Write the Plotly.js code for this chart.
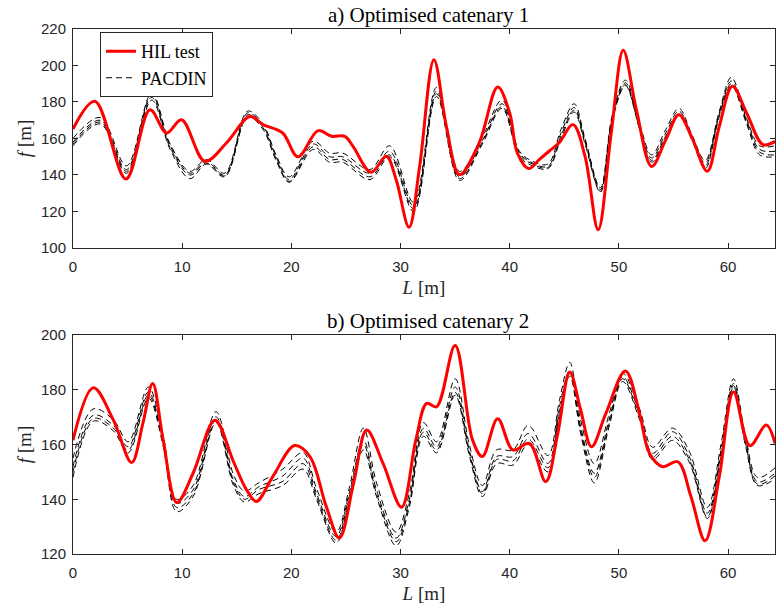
<!DOCTYPE html>
<html>
<head>
<meta charset="utf-8">
<script src="https://cdn.plot.ly/plotly-3.0.1.min.js"></script>
<style>html,body{margin:0;padding:0;background:#fff;}#chart{width:776px;height:611px;}</style>
</head>
<body>
<div id="chart"></div>
<script>
// ---------- Data: a) Optimised catenary 1 ----------
const hil1X = [0, 2.0, 4.85, 7.05, 8.57, 9.94, 12.07, 14.05, 16.2, 17.4, 19.2, 20.6, 22.45, 23.7, 24.9, 25.65, 27.3, 28.7, 29.6, 30.78, 31.75, 33.06, 34.2, 35.4, 37.2, 38.9, 40.0, 40.7, 41.75, 42.7, 43.6, 44.5, 45.8, 46.9, 48.1, 49.3, 50.4, 51.6, 53.0, 54.3, 55.5, 56.7, 58.1, 59.2, 60.4, 61.7, 63.2, 64.3];
const hil1Y = [165.2, 180.4, 137.8, 175.8, 163, 170.3, 147.5, 157.5, 172, 167.6, 163, 150, 164.3, 161.2, 161.2, 155.7, 141.5, 150.2, 137.4, 111.3, 144.7, 203.2, 166.7, 140.2, 157.5, 188.2, 174, 152, 143.5, 148.4, 153, 157.5, 167.6, 150.2, 110, 163, 208.3, 175.8, 144.7, 159.4, 173, 160.3, 142, 166.7, 188.6, 174, 156.6, 158.4];

const pac1X = [0, 2.5, 4.9, 7.2, 8.9, 10.7, 12.2, 13.9, 16.0, 17.4, 18.6, 19.8, 22.0, 23.5, 24.7, 27.2, 29.0, 31.2, 33.3, 35.4, 37.5, 39.3, 40.9, 42.1, 43.5, 44.7, 45.9, 46.9, 48.3, 49.4, 50.6, 51.9, 53.0, 54.3, 55.5, 56.7, 57.9, 59.2, 60.3, 61.7, 62.9, 64.3];
const pac1A = [160, 171.5, 145, 185, 157, 142, 148.5, 141, 175, 168, 151, 139, 158.5, 152, 152, 143, 156, 125, 188, 142, 161, 181, 153, 147.5, 146, 165, 179, 160, 133, 173, 192, 168, 151, 165, 176.5, 162, 148, 175, 193.5, 171, 156, 156];
const pac1B = [158, 170, 143, 184, 156, 141, 147.5, 140, 174, 167, 150, 137.5, 157, 150, 150, 141, 153, 123, 186, 139, 159, 179, 152, 146.6, 144.7, 163, 177, 159, 132, 172, 190.5, 166.7, 149.3, 163, 175, 161, 146.6, 174, 191.5, 170, 154, 153];
const pac1C = [157, 169, 142, 182.5, 155, 140, 146.5, 139.5, 173, 166, 149, 136.5, 155.5, 148.5, 148.5, 139, 151, 121.5, 184.5, 138, 158, 177.5, 151, 146, 144, 161.5, 175.5, 158, 131, 171, 189.5, 165.5, 148, 161.5, 173.5, 160, 145, 173, 190, 169, 152.5, 151];
const pac1D = [156, 168, 141, 181, 154, 138, 146, 139, 172, 165, 148, 136, 154, 147, 147, 137.5, 150, 120, 183, 137, 157, 176.5, 150, 145, 143.5, 160, 174.5, 157, 130.5, 170, 189, 165, 147, 160.5, 173, 159, 143.5, 172, 189, 168, 151, 150];

// ---------- Data: b) Optimised catenary 2 ----------
const hil2X = [0, 1.86, 3.7, 5.37, 6.4, 7.3, 8.26, 9.5, 11.0, 13.0, 14.7, 15.9, 16.8, 18.3, 20.3, 21.7, 23.2, 24.4, 25.7, 26.9, 28.4, 30.1, 31.4, 32.4, 33.3, 35.0, 36.6, 37.5, 38.9, 40.3, 41.8, 43.3, 44.4, 45.5, 46.5, 47.5, 48.8, 50.6, 51.9, 52.8, 54.0, 55.4, 56.6, 57.9, 59.2, 60.5, 62.0, 63.5, 64.3];
const hil2Y = [161.6, 180.7, 168.9, 153.4, 167.7, 182.3, 161.6, 138.8, 149.5, 168.9, 153.7, 143.4, 139.2, 148.3, 159.6, 155.6, 137.3, 125.8, 145.8, 165.3, 153.1, 137.1, 161.6, 175, 173.8, 196.2, 161.6, 155.6, 169.4, 158, 160.4, 146.4, 164, 186.5, 172.6, 159.2, 171.3, 186.9, 171.3, 156.8, 151.9, 153.7, 141, 124.8, 148.3, 179.2, 159.6, 167.1, 160.4];

const pac2X = [0, 1.86, 3.7, 5.06, 6.9, 8.26, 9.5, 11.0, 13.1, 14.7, 15.7, 17.0, 19.2, 21.07, 22.3, 24.1, 25.3, 26.6, 27.8, 29.6, 30.8, 32.1, 33.3, 35.0, 36.3, 37.5, 38.8, 40.3, 41.7, 43.5, 44.55, 45.5, 46.5, 47.75, 49.1, 50.35, 51.9, 53.1, 54.9, 56.45, 58.1, 59.35, 60.5, 61.6, 62.7, 64.3];
const pac2A = [155, 173, 169, 161, 181, 163, 140, 145, 172, 149, 143, 146, 151, 157, 144, 128, 144, 166, 146, 128, 142, 168, 161, 184, 160, 145, 158, 158, 167, 156, 176, 190, 169, 153, 171, 186, 173, 159, 166, 157.5, 137, 160, 184, 163, 148, 151.5];
const pac2B = [152, 170.7, 167, 159.2, 179.2, 161.6, 138.6, 143.4, 170.1, 147, 141, 144.5, 148.5, 155, 142.2, 126.4, 142.2, 161.6, 143.4, 125.8, 139.8, 165.9, 159.2, 181, 158, 142.8, 155.6, 155.6, 164, 153.1, 173.8, 187.1, 166.5, 149.5, 168.9, 184.7, 171.3, 156.8, 164.7, 155.6, 134.9, 158, 182.3, 161.6, 146.4, 149.5];
const pac2C = [150, 169.5, 166, 158, 178, 160.5, 137, 142, 169, 146, 140, 143.5, 146.5, 153, 141, 125, 141, 160, 142, 124.5, 138.5, 164.5, 158, 179, 157, 142, 154.5, 154, 162, 151.5, 172, 186, 165, 148, 167.5, 184, 170, 155.5, 163, 154.5, 133.5, 157, 181.5, 160.5, 145.5, 148.5];
const pac2D = [148, 168.5, 165, 157, 177, 159.5, 135.5, 141, 168, 145, 139, 142, 145, 151, 140, 124, 139.5, 158, 141, 123, 137, 163, 157, 178, 156, 141, 153, 152.5, 160, 150, 171, 185, 164, 146, 166.5, 183, 169, 154.5, 161.5, 153.5, 133, 156, 181, 159.5, 145, 147.5];

const xTicks = [0, 10, 20, 30, 40, 50, 60];
const yTicks1 = [100, 120, 140, 160, 180, 200, 220];
const yTicks2 = [120, 140, 160, 180, 200];
const titles = ["a) Optimised catenary 1", "b) Optimised catenary 2"];

// ---------- Traces ----------
const dashStyle = {color: '#000000', width: 1, dash: '6px,4px', shape: 'spline', smoothing: 1};
function pac(x, y, xa, ya, show) {
  return {x: x, y: y, xaxis: xa, yaxis: ya, type: 'scatter', mode: 'lines',
          line: dashStyle, name: 'PACDIN', showlegend: show, hoverinfo: 'skip'};
}
function hil(x, y, xa, ya, show) {
  return {x: x, y: y, xaxis: xa, yaxis: ya, type: 'scatter', mode: 'lines',
          line: {color: '#ff0000', width: 3, shape: 'spline', smoothing: 1},
          name: 'HIL test', showlegend: show, hoverinfo: 'skip'};
}
const traces = [
  pac(pac1X, pac1A, 'x', 'y', true),
  pac(pac1X, pac1B, 'x', 'y', false),
  pac(pac1X, pac1C, 'x', 'y', false),
  pac(pac1X, pac1D, 'x', 'y', false),
  hil(hil1X, hil1Y, 'x', 'y', true),
  pac(pac2X, pac2A, 'x2', 'y2', false),
  pac(pac2X, pac2B, 'x2', 'y2', false),
  pac(pac2X, pac2C, 'x2', 'y2', false),
  pac(pac2X, pac2D, 'x2', 'y2', false),
  hil(hil2X, hil2Y, 'x2', 'y2', false)
];
traces[4].legendrank = 1; traces[0].legendrank = 2;

const tickFont = {family: 'Liberation Sans, Arial, sans-serif', size: 15, color: '#262626'};
const serif = 'Liberation Serif, DejaVu Serif, serif';
function xAxis(anchor) {
  return {anchor: anchor, range: [0, 64.3], tickvals: xTicks, ticks: 'inside', ticklen: 5,
          tickcolor: '#262626', showline: true, linecolor: '#262626', linewidth: 1, mirror: 'ticks',
          showgrid: false, zeroline: false, tickfont: tickFont, ticklabelstandoff: 5,
          title: {text: '<i>L</i> [m]', font: {family: serif, size: 19, color: '#262626'}, standoff: 6}};
}
function yAxis(anchor, range, ticks, domain) {
  return {anchor: anchor, domain: domain, range: range, tickvals: ticks, ticks: 'inside', ticklen: 5,
          tickcolor: '#262626', showline: true, linecolor: '#262626', linewidth: 1, mirror: 'ticks',
          showgrid: false, zeroline: false, tickfont: tickFont, ticklabelstandoff: 3,
          title: {text: '<i>f</i> [m]', font: {family: serif, size: 19, color: '#262626'}, standoff: 4}};
}
const layout = {
  width: 776, height: 611,
  margin: {l: 73, r: 1, t: 29, b: 57},
  paper_bgcolor: '#ffffff', plot_bgcolor: '#ffffff',
  xaxis: Object.assign(xAxis('y'), {domain: [0, 1]}),
  yaxis: yAxis('x', [100, 220], yTicks1, [0.5829, 1]),
  xaxis2: Object.assign(xAxis('y2'), {domain: [0, 1]}),
  yaxis2: yAxis('x2', [120, 200], yTicks2, [0, 0.4171]),
  showlegend: true,
  legend: {x: 0.0385, y: 0.994, xanchor: 'left', yanchor: 'top', bgcolor: '#ffffff',
           bordercolor: '#262626', borderwidth: 1, tracegroupgap: 0,
           font: {family: serif, size: 18, color: '#000000'}},
  annotations: [
    {text: titles[0], xref: 'paper', yref: 'paper', x: 0.506, y: 1, yanchor: 'bottom', yshift: 0,
     showarrow: false, font: {family: serif, size: 21, color: '#000000'}},
    {text: titles[1], xref: 'paper', yref: 'paper', x: 0.506, y: 0.4171, yanchor: 'bottom', yshift: 0,
     showarrow: false, font: {family: serif, size: 21, color: '#000000'}}
  ]
};
Plotly.newPlot('chart', traces, layout, {staticPlot: true, displayModeBar: false});
</script>
</body>
</html>
